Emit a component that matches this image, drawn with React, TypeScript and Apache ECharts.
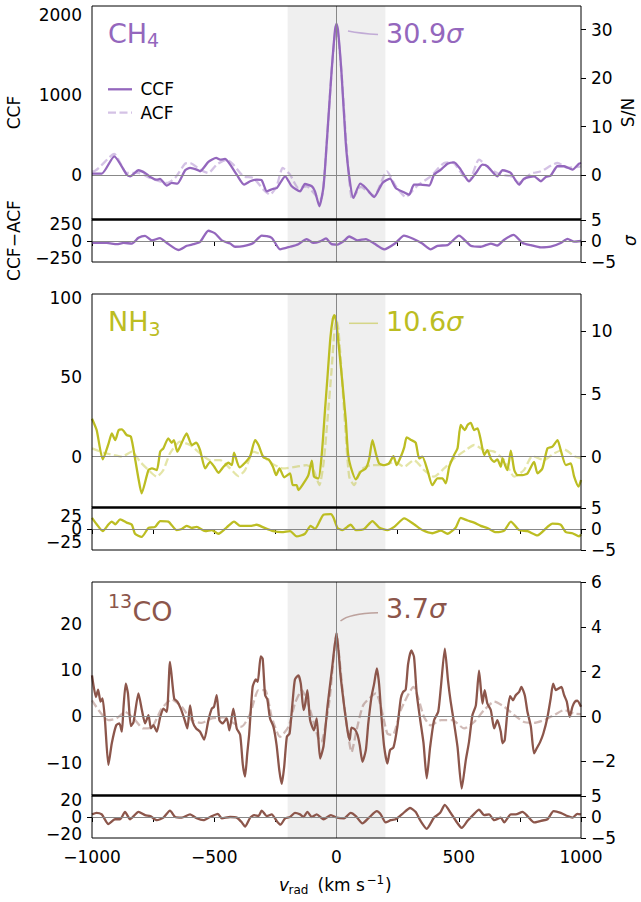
import React, { useEffect, useRef } from 'react';
import * as echarts from 'echarts';

type P = [number, number][];

const FONT = '"DejaVu Sans", "Liberation Sans", sans-serif';

// ---- Data: [velocity (km/s), value] ----
const ch4Ccf: P = [[-1000,17],[-994,17],[-960,17],[-909,234],[-858,4],[-844,-17],[-810,59],[-783,25],[-762,-25],[-735,-59],[-722,-50],[-694,-134],[-674,-100],[-651,-109],[-619,59],[-599,88],[-572,67],[-558,46],[-524,163],[-492,213],[-476,192],[-456,201],[-435,130],[-408,4],[-378,-121],[-353,-79],[-326,-59],[-306,-67],[-285,-205],[-261,-176],[-244,-163],[-210,-17],[-183,-142],[-149,-205],[-129,-113],[-101,-142],[-88,-205],[-70,-393],[-53,-142],[-40,400],[-20,1300],[-6,1820],[0,1890],[6,1820],[20,1300],[38,400],[52,-17],[69,-288],[97,-109],[120,-163],[154,-276],[188,-100],[219,-46],[242,-163],[276,-217],[297,-247],[317,-121],[345,-121],[379,-134],[399,4],[427,67],[454,142],[481,159],[508,67],[542,-79],[570,25],[597,130],[617,109],[658,-17],[679,59],[699,46],[713,25],[747,-121],[767,-46],[808,-17],[836,-79],[856,-25],[876,-8],[904,109],[931,109],[965,67],[992,142],[1000,150]];
const ch4Acf: P = [[-1000,46],[-994,46],[-909,263],[-858,25],[-810,25],[-762,-38],[-694,-100],[-660,-38],[-619,142],[-599,150],[-558,67],[-524,25],[-490,130],[-449,192],[-422,130],[-381,-17],[-340,-38],[-299,-184],[-272,-247],[-245,-142],[-220,88],[-190,4],[-156,-163],[-122,-142],[-81,-268],[-62,-300],[-40,400],[-20,1300],[0,1900],[20,1300],[40,400],[65,-309],[99,-150],[154,-259],[206,46],[243,-142],[283,-276],[331,-134],[385,-17],[440,150],[474,159],[515,4],[542,-79],[583,192],[631,67],[672,4],[713,-17],[747,-100],[795,17],[836,46],[904,150],[945,88],[1000,109]];
const ch4Res: P = [[-1000,-28],[-940,-28],[-898,-46],[-871,-28],[-837,-37],[-810,46],[-783,74],[-755,9],[-722,42],[-694,-28],[-646,-130],[-612,-69],[-585,-46],[-558,-14],[-524,148],[-497,111],[-469,9],[-435,-37],[-415,-83],[-381,-74],[-340,-28],[-306,79],[-265,46],[-231,-120],[-190,-83],[-156,-46],[-122,28],[-94,-28],[-67,-5],[-43,37],[-20,-46],[4,-51],[30,0],[52,65],[86,9],[120,28],[154,-37],[195,-120],[242,-28],[276,79],[311,37],[351,-37],[385,-120],[413,-69],[454,-60],[501,79],[549,-69],[590,-83],[631,-37],[658,-65],[686,19],[724,88],[761,-28],[795,-60],[836,-93],[876,-83],[917,-28],[945,32],[972,-9],[1000,0]];

const nh3Ccf: P = [[-1000,24],[-981,16.8],[-956,-1.7],[-932,8.4],[-919,14.7],[-905,10.5],[-891,16.8],[-878,17.2],[-858,13.7],[-841,12.6],[-824,-1.1],[-810,-13.7],[-797,-23.1],[-769,-8.4],[-755,-7.4],[-735,-8.4],[-721,3.2],[-708,5.3],[-688,11.6],[-674,8.8],[-665,10.5],[-651,3.2],[-633,8.8],[-613,14.7],[-592,7.4],[-574,8.8],[-558,4.2],[-537,-7.4],[-517,-3.2],[-500,-6.3],[-483,-10.1],[-462,-6.3],[-442,-3.8],[-428,-5.3],[-419,2.5],[-397,-6.7],[-374,-3.8],[-353,0.4],[-333,10.5],[-319,7.4],[-299,-0.4],[-278,-1.7],[-260,-6.3],[-247,-11.6],[-233,-7.4],[-214,-13],[-190,-10.5],[-179,-17.9],[-163,-17.9],[-156,-21],[-135,-16.8],[-115,-11.6],[-101,-2.5],[-92,-12.6],[-74,-13.7],[-60,2.1],[-47,29.4],[-37,50],[-25,75],[-15,87],[-9,89.3],[-2,86],[8,72],[22,50],[38,23.1],[47,2.1],[58,-6.3],[79,-14.3],[99,-9.5],[120,-7.4],[134,-1.1],[147,10.5],[161,2.1],[174,-4.2],[195,-5.3],[215,-4.2],[233,0.4],[246,-5.3],[263,0],[277,5.9],[287,12.2],[306,10.5],[324,8.8],[338,-1.1],[351,0],[372,-8.4],[392,-17.9],[413,-13.7],[433,-13.7],[447,-16.8],[461,-6.3],[481,1.1],[495,5.3],[508,20],[525,16.8],[536,20],[549,21.4],[563,16.8],[577,17.9],[590,10.5],[604,1.1],[617,4.2],[631,-1.1],[645,-3.2],[658,-1.7],[672,-6.3],[679,-1.1],[692,-6.3],[699,-8.4],[713,3.8],[727,-8.4],[740,-11.6],[761,-11.6],[781,-10.5],[808,-3.2],[822,-10.5],[842,-7.4],[863,5.3],[883,6.3],[904,10.5],[917,4.2],[938,-5.3],[958,-4.2],[972,-12.6],[990,-18.9],[1000,-14.7]];
const nh3Acf: P = [[-1000,5.3],[-953,2.5],[-912,1.1],[-878,0],[-837,3.2],[-803,-3.2],[-769,-8.4],[-735,-12.6],[-708,-8.4],[-681,2.1],[-640,9.5],[-599,7.4],[-558,2.1],[-517,-2.1],[-476,-2.1],[-435,-7.4],[-401,-12.2],[-374,-8.4],[-340,3.2],[-306,1.1],[-265,-4.2],[-217,-7.4],[-163,-6.3],[-122,-5.3],[-94,-8.4],[-70,-17.9],[-53,-4.2],[-37,23],[-20,55],[-8,80],[0,86],[8,80],[20,55],[35,20],[52,-12.6],[72,-17.9],[99,-8.4],[140,-5.3],[195,-5.3],[236,-3.2],[277,-6.3],[317,-2.1],[358,-8.4],[399,-12.6],[440,-7.4],[481,-1.1],[529,4.2],[563,7.4],[604,4.2],[645,3.2],[686,-2.1],[727,-12.6],[767,-8.4],[801,0.4],[849,-2.1],[890,2.1],[931,4.6],[972,0.4],[1000,-1.1]];
const nh3Res: P = [[-1000,21],[-981,9],[-956,-4],[-932,9],[-919,14],[-905,9],[-885,18],[-858,12],[-837,8],[-824,-9],[-797,-15],[-769,2],[-742,4],[-721,15],[-688,14],[-654,-2],[-633,0],[-613,6],[-592,2],[-572,4],[-537,-4],[-510,-2],[-483,-9],[-449,3],[-419,14],[-394,6],[-353,6],[-326,8],[-299,3],[-258,-4],[-224,-6],[-190,-4],[-163,-14],[-129,-9],[-106,6],[-88,0],[-53,27],[-23,28],[-12,21],[4,2],[24,-2],[58,8],[79,-2],[113,0],[147,15],[174,3],[208,-2],[236,4],[277,20],[317,9],[351,-2],[392,-8],[427,-3],[454,-9],[488,3],[508,21],[536,16],[563,12],[590,6],[617,2],[652,-6],[686,-3],[713,14],[747,-2],[781,-4],[822,-12],[863,4],[883,10],[917,8],[938,-6],[965,-8],[992,-14],[1000,-10]];

const coCcf: P = [[-1000,8.9],[-984,4.2],[-975,5.8],[-965,3.2],[-957,3.9],[-947,-0.8],[-933,-10.5],[-919,-5.8],[-901,-1.9],[-888,-1.5],[-878,-3.3],[-871,2.1],[-862,7.1],[-853,5],[-841,-2.1],[-830,-1.2],[-810,5],[-796,1.4],[-783,-1.5],[-769,0.3],[-759,-2.6],[-749,-1.9],[-735,-3.3],[-721,-0.1],[-708,1.7],[-694,1],[-681,11.8],[-664,3.9],[-651,3.2],[-637,1.7],[-623,-0.4],[-610,-2.6],[-599,2.4],[-588,-1.2],[-574,-2.6],[-558,-3.3],[-541,-5],[-524,-0.8],[-510,1.7],[-501,2.1],[-490,4.6],[-479,-0.8],[-466,-1.5],[-449,-0.4],[-438,-3],[-422,1.7],[-408,-2.6],[-394,-4],[-383,-10.5],[-374,-13],[-365,-8],[-357,-3.7],[-343,6.4],[-330,8],[-322,7.5],[-310,13],[-302,12.5],[-292,4.6],[-283,3.7],[-272,-0.4],[-258,-2.2],[-245,-6.2],[-234,-11.6],[-224,-14.6],[-214,-10.9],[-203,-4.4],[-192,-3.7],[-179,3.5],[-170,8],[-156,8.9],[-146,7.1],[-135,1.4],[-129,2.4],[-119,5.7],[-108,-0.8],[-92,-3],[-81,-0.4],[-67,-9.1],[-53,-6.4],[-37,2.1],[-19,10],[0,18.1],[17,8.6],[31,2.4],[45,-3],[54,-5.1],[61,-2.4],[75,-2.8],[86,-4],[95,-6.2],[106,-9.8],[120,-7.3],[130,-1.5],[143,4.2],[154,7.1],[165,10.4],[174,7.1],[184,-0.1],[195,-6.6],[208,-10.2],[219,-7.3],[233,-6.7],[249,-2.2],[263,3.9],[272,5.3],[283,5.8],[293,11.4],[306,14.3],[317,12.9],[328,5],[342,-0.6],[356,-5.8],[369,-13.4],[383,-6.6],[399,-0.8],[416,1],[427,6.4],[443,14.7],[456,7.8],[467,3.2],[481,-1.5],[495,-6.6],[512,-15.6],[529,-9.4],[542,-5.5],[556,0.3],[570,2.4],[583,9.9],[597,2.8],[606,5.7],[617,2.8],[631,1.4],[645,-2.6],[658,-0.8],[672,-3.3],[679,-5.8],[688,-5.1],[699,1],[710,4.4],[722,3.5],[733,4.6],[747,5.3],[756,6.4],[770,4.6],[781,1],[795,-2.2],[808,-8],[819,-6.9],[833,-5.5],[846,-3.7],[863,-0.1],[876,3.9],[886,7.1],[897,5.7],[906,6],[920,6.4],[931,4.6],[942,3.2],[954,-0.1],[965,2.1],[975,3.2],[985,3.4],[1000,2.1]];
const coAcf: P = [[-1000,3.5],[-968,1],[-933,-0.8],[-899,-0.4],[-865,1],[-830,-0.4],[-790,-2.6],[-756,-2.4],[-715,1.7],[-674,3.7],[-633,2.1],[-592,-0.8],[-551,-1.4],[-510,-0.4],[-462,-0.2],[-422,-1.4],[-388,-2.2],[-353,0.6],[-319,5.7],[-292,5.7],[-265,-0.1],[-231,-4.4],[-196,-2.2],[-170,2.8],[-142,5.7],[-108,1.4],[-74,-4.8],[-62,-5.5],[-30,3],[-15,11],[0,18],[15,11],[30,3],[62,-7.7],[82,-3],[110,2.5],[161,5],[208,-3.7],[230,-4],[263,1.4],[315,6.4],[358,-0.1],[385,-1.9],[427,-0.8],[474,-0.8],[522,-2.6],[563,-1.2],[604,1.4],[645,3.2],[686,2.1],[727,0.3],[767,-1.2],[808,-1.4],[849,-0.8],[890,0.3],[931,1.4],[972,0.6],[1000,0.5]];
const coRes: P = [[-1000,3],[-981,4.8],[-960,3],[-933,-8.1],[-906,-2.6],[-885,-2.6],[-865,5.9],[-844,-2.6],[-810,5.9],[-783,2.2],[-762,1.1],[-735,-3.7],[-708,-0.7],[-681,7.4],[-660,0],[-633,-0.7],[-599,3],[-572,-1.5],[-544,-3.7],[-517,0],[-485,3.7],[-469,-1.5],[-435,0],[-408,-0.7],[-387,-6.3],[-374,-11.1],[-353,-0.7],[-337,2.2],[-319,1.1],[-306,7.4],[-285,1.1],[-265,3],[-245,-4.4],[-229,-8.9],[-210,-1.5],[-190,0],[-170,4.8],[-149,3],[-135,0],[-119,5.9],[-101,0],[-81,3],[-53,-2.6],[-23,2.2],[1,-0.7],[31,-1.5],[58,4.8],[79,1.1],[106,-7.4],[133,-0.7],[165,6.7],[181,3],[201,-6.3],[222,-3.7],[242,-2.6],[270,3.7],[301,10.4],[324,5.9],[342,-3.7],[369,-13.7],[399,-0.7],[424,4.8],[443,14.1],[467,4.8],[488,-4.4],[512,-12.6],[536,-4.4],[563,3.7],[583,8.5],[604,2.2],[624,3],[645,-3.7],[672,-0.7],[686,-6.3],[713,3],[733,3],[761,5.9],[781,1.1],[808,-6.3],[836,-4.4],[863,-2.6],[888,6.7],[917,4.8],[945,1.1],[965,-0.7],[985,3.7],[1000,3]];

// Axis ranges and ticks
const velocityRange = [-1000, 1000];
const shadedRange = [-200, 200];
const ch4Range = [-552, 2118];
const ch4SnrRange = [-9.1, 34.9];
const ch4ResRange = [-303.5, 303.5];
const nh3Range = [-31.7, 102.6];
const nh3SnrRange = [-4.0, 12.95];
const nh3ResRange = [-39.6, 39.6];
const coRange = [-17.0, 29.1];
const coSnrRange = [-3.5, 6.0];
const coResRange = [-24.3, 24.3];
const sigmaResRange = [-5, 5];

const ch4Ticks = [0, 1000, 2000];
const ch4SnrTicks = [0, 10, 20, 30];
const ch4ResTicks = [-250, 0, 250];
const nh3Ticks = [0, 50, 100];
const nh3SnrTicks = [0, 5, 10];
const nh3ResTicks = [-25, 0, 25];
const coTicks = [-10, 0, 10, 20];
const coSnrTicks = [-2, 0, 2, 4, 6];
const coResTicks = [-20, 0, 20];
const sigmaResTicks = [-5, 0, 5];

const significances = ['30.9', '10.6', '3.7'];

const COLORS = ['#9467bd', '#bcbd22', '#8c564b'];
const ACF_COLORS = ['rgba(148,103,189,0.4)', 'rgba(188,189,34,0.4)', 'rgba(140,86,75,0.4)'];
const LEAD_COLORS = ['rgba(148,103,189,0.5)', 'rgba(188,189,34,0.5)', 'rgba(140,86,75,0.5)'];

const fmt = (v: number) => String(v).replace('-', '\u2212');

const GRID_LEFT = 92;
const GRID_WIDTH = 489;
const MAIN_TOPS = [6, 294, 582];
const MAIN_H = 213;
const RES_H = 42;
const LW = 2.3;
const SMOOTH = 0.2;

export default function App() {
  const ref = useRef<HTMLDivElement>(null);
  useEffect(() => {
    if (!ref.current) return;
    const chart = echarts.init(ref.current, undefined, { renderer: 'svg' });

    const panels = [
      { ccf: ch4Ccf, acf: ch4Acf, res: ch4Res, r: ch4Range, s: ch4SnrRange, rr: ch4ResRange, t: ch4Ticks, st: ch4SnrTicks, rt: ch4ResTicks },
      { ccf: nh3Ccf, acf: nh3Acf, res: nh3Res, r: nh3Range, s: nh3SnrRange, rr: nh3ResRange, t: nh3Ticks, st: nh3SnrTicks, rt: nh3ResTicks },
      { ccf: coCcf, acf: coAcf, res: coRes, r: coRange, s: coSnrRange, rr: coResRange, t: coTicks, st: coSnrTicks, rt: coResTicks },
    ];

    const grids: any[] = [];
    const xAxes: any[] = [];
    const yAxes: any[] = [];
    const extraAxes: any[] = [];
    const series: any[] = [];

    const labelStyle = { fontSize: 17, color: '#000', fontFamily: FONT };
    const tickStyle = { lineStyle: { color: '#000', width: 1 } };

    const yAx = (gridIndex: number, range: number[], ticks: number[], position: string) => ({
      type: 'value', gridIndex, min: range[0], max: range[1], position,
      splitLine: { show: false },
      axisLine: { show: false },
      axisTick: { show: true, length: 5, customValues: ticks, ...tickStyle },
      axisLabel: { show: true, customValues: ticks, margin: 10, showMinLabel: true, showMaxLabel: true, hideOverlap: false, formatter: (v: number) => fmt(v), ...labelStyle },
    });

    const helper = (xi: number, yi: number) => ({
      type: 'line', xAxisIndex: xi, yAxisIndex: yi, data: [[0, 0]], symbol: 'none', silent: true, z: 1,
      lineStyle: { opacity: 0 },
      markArea: { silent: true, itemStyle: { color: '#efefef' }, data: [[{ xAxis: shadedRange[0] }, { xAxis: shadedRange[1] }]] },
      markLine: {
        silent: true, symbol: ['none', 'none'], label: { show: false },
        lineStyle: { color: '#888', width: 1, type: 'solid' },
        data: [{ xAxis: 0 }, { yAxis: 0 }],
      },
    });

    panels.forEach((p, i) => {
      const gm = 2 * i, gr = 2 * i + 1;
      const top = MAIN_TOPS[i];
      grids.push({ left: GRID_LEFT, width: GRID_WIDTH, top, height: MAIN_H, show: true, borderColor: '#000', borderWidth: 1, backgroundColor: 'transparent', z: 10 });
      grids.push({ left: GRID_LEFT, width: GRID_WIDTH, top: top + MAIN_H + 1, height: RES_H, show: true, borderColor: '#000', borderWidth: 1, backgroundColor: 'transparent', z: 10 });
      xAxes.push({ type: 'value', gridIndex: gm, min: velocityRange[0], max: velocityRange[1], show: false, splitLine: { show: false } });
      xAxes.push({
        type: 'value', gridIndex: gr, min: velocityRange[0], max: velocityRange[1], interval: 250,
        splitLine: { show: false }, axisLine: { show: false },
        axisTick: { show: true, length: 5, ...tickStyle },
        axisLabel: { show: i === 2, margin: 10, showMinLabel: true, showMaxLabel: true, formatter: (v: number) => (v % 500 === 0 ? fmt(v) : ''), ...labelStyle },
      });
      yAxes.push(yAx(gm, p.r, p.t, 'left'));
      yAxes.push(yAx(gm, p.s, p.st, 'right'));
      // residual left axis: outer ticks on one axis, the zero tick on a twin axis (avoids overlap hiding)
      yAxes.push(yAx(gr, p.rr, p.rt.filter((v) => v !== 0), 'left'));
      yAxes.push(yAx(gr, sigmaResRange, sigmaResTicks, 'right'));
      extraAxes.push(yAx(gr, p.rr, p.rt.filter((v) => v === 0), 'left'));

      series.push(helper(gm, 4 * i));
      series.push({
        type: 'line', xAxisIndex: gm, yAxisIndex: 4 * i, data: p.acf, symbol: 'none', z: 2, silent: true, smooth: SMOOTH,
        lineStyle: { color: ACF_COLORS[i], width: LW, type: [8, 3.5] },
      });
      series.push({
        type: 'line', xAxisIndex: gm, yAxisIndex: 4 * i, data: p.ccf, symbol: 'none', z: 3, silent: true, smooth: SMOOTH,
        lineStyle: { color: COLORS[i], width: LW },
      });
      series.push(helper(gr, 4 * i + 2));
      series.push({
        type: 'line', xAxisIndex: gr, yAxisIndex: 4 * i + 2, data: p.res, symbol: 'none', z: 3, silent: true, smooth: SMOOTH,
        lineStyle: { color: COLORS[i], width: LW },
      });
    });

    const txt = (x: number, y: number, text: string, size: number, fill: string, extra: any = {}) => ({
      type: 'text', x, y, z: 20, silent: true,
      style: { text, fontSize: size, fontFamily: FONT, fill, textAlign: 'left', textVerticalAlign: 'middle', ...extra },
    });
    const sigText = (x: number, y: number, num: string, fill: string) => ({
      type: 'text', x, y, z: 20, silent: true,
      style: {
        text: `{n|${num}}{s|σ}`, textAlign: 'left', textVerticalAlign: 'middle', fill,
        rich: {
          n: { fontSize: 27, fontFamily: FONT, fill },
          s: { fontSize: 27, fontFamily: FONT, fontStyle: 'italic', fill },
        },
      },
    });

    const graphic: any[] = [
      // panel titles
      txt(108, 33, 'CH', 27, COLORS[0]),
      txt(147, 40, '4', 19, COLORS[0]),
      txt(108, 321.5, 'NH', 27, COLORS[1]),
      txt(148.5, 328.5, '3', 19, COLORS[1]),
      txt(108, 601, '13', 19, COLORS[2]),
      txt(132.5, 611, 'CO', 27, COLORS[2]),
      // significances
      sigText(386, 33, significances[0], COLORS[0]),
      sigText(386, 321, significances[1], COLORS[1]),
      sigText(386, 608.5, significances[2], COLORS[2]),
      // leader lines
      { type: 'bezierCurve', z: 20, silent: true, shape: { x1: 348, y1: 31, x2: 378, y2: 34.5, cpx1: 361, cpy1: 33.5 }, style: { stroke: LEAD_COLORS[0], lineWidth: 1.5, fill: 'none' } },
      { type: 'line', z: 20, silent: true, shape: { x1: 349, y1: 323.3, x2: 378, y2: 323.3 }, style: { stroke: LEAD_COLORS[1], lineWidth: 1.5 } },
      { type: 'bezierCurve', z: 20, silent: true, shape: { x1: 340.5, y1: 621, x2: 378, y2: 612.7, cpx1: 349, cpy1: 613.5 }, style: { stroke: LEAD_COLORS[2], lineWidth: 1.5, fill: 'none' } },
      // legend
      { type: 'line', z: 20, silent: true, shape: { x1: 108, y1: 89.3, x2: 132, y2: 89.3 }, style: { stroke: COLORS[0], lineWidth: LW } },
      txt(140.5, 89.3, 'CCF', 17, '#000'),
      { type: 'line', z: 20, silent: true, shape: { x1: 108, y1: 112.7, x2: 132, y2: 112.7 }, style: { stroke: ACF_COLORS[0], lineWidth: LW, lineDash: [8, 3.5] } },
      txt(140.5, 112.7, 'ACF', 17, '#000'),
      // thick boundaries between main and residual panels
      ...MAIN_TOPS.map((t) => ({ type: 'rect', z: 30, silent: true, shape: { x: GRID_LEFT - 0.5, y: t + MAIN_H - 0.5, width: GRID_WIDTH + 1, height: 2 }, style: { fill: '#000' } })),
      // y-axis titles
      { ...txt(14, 112.5, 'CCF', 17, '#000', { textAlign: 'center' }), rotation: Math.PI / 2 },
      { ...txt(14, 240.5, 'CCF\u2212ACF', 17, '#000', { textAlign: 'center' }), rotation: Math.PI / 2 },
      { ...txt(628, 112.5, 'S/N', 17, '#000', { textAlign: 'center' }), rotation: Math.PI / 2 },
      { ...txt(630, 240.5, 'σ', 17, '#000', { textAlign: 'center', fontStyle: 'italic' }), rotation: Math.PI / 2 },
      // x-axis title
      txt(279, 885, 'v', 17, '#000', { fontStyle: 'italic' }),
      txt(288.5, 890, 'rad', 12, '#000'),
      txt(317.5, 885, '(km s', 17, '#000'),
      txt(366.5, 880, '\u22121', 12, '#000'),
      txt(385, 885, ')', 17, '#000'),
    ];

    chart.setOption({
      animation: false,
      backgroundColor: '#fff',
      grid: grids,
      xAxis: xAxes,
      yAxis: [...yAxes, ...extraAxes],
      series,
      graphic,
    });
    return () => chart.dispose();
  }, []);

  return <div ref={ref} style={{ position: 'absolute', left: 0, top: 0, width: 641, height: 902 }} />;
}
